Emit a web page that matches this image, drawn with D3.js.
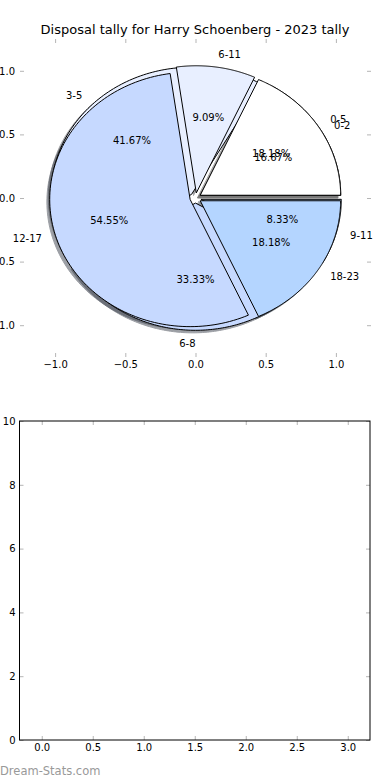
<!DOCTYPE html>
<html>
<head>
<meta charset="utf-8">
<script src="https://cdn.jsdelivr.net/npm/d3@7"></script>
<style>
  html, body { margin: 0; padding: 0; background: #fff; }
  svg { display: block; font-family: "DejaVu Sans", sans-serif; }
</style>
</head>
<body>
<div id="chart"></div>
<script>
// chart data
var titleText = "Disposal tally for Harry Schoenberg - 2023 tally";
var firstLabels = ["0-2", "3-5", "6-8", "9-11"];
var firstValues = [2, 5, 4, 1];
var secondLabels = ["0-5", "6-11", "12-17", "18-23"];
var secondValues = [2, 1, 6, 2];
var sliceColors = ["#ffffff", "#e8efff", "#c6d9ff", "#b4d5ff"];
var pieTicks = [-1, -0.5, 0, 0.5, 1];
var emptyXTicks = [0, 0.5, 1, 1.5, 2, 2.5, 3];
var emptyYTicks = [0, 2, 4, 6, 8, 10];
var watermark = "Dream-Stats.com";

var width = 390, height = 780;
var explode = 0.04, shadowOffset = -0.02;
var tickGrey = "#b5b5b5";

var svg = d3.select("#chart").append("svg")
    .attr("width", width)
    .attr("height", height);

// --- top panel: two overlaid pies ---
var xPie = d3.scaleLinear().domain([-1.25, 1.25]).range([20, 371]);
var yPie = d3.scaleLinear().domain([-1.25, 1.25]).range([357, 39]);

svg.append("text")
    .attr("x", 195)
    .attr("y", 34)
    .attr("text-anchor", "middle")
    .style("font-size", "13px")
    .text(titleText);

// matplotlib style: start at 3 o'clock, go counter-clockwise
var pieLayout = d3.pie().sort(null)
    .startAngle(Math.PI / 2)
    .endAngle(Math.PI / 2 - 2 * Math.PI);

var line = d3.line()
    .x(function(p) { return xPie(p[0]); })
    .y(function(p) { return yPie(p[1]); });

function buildWedges(labels, values) {
    var total = d3.sum(values);
    return pieLayout(values).map(function(a, i) {
        var t1 = Math.PI / 2 - a.startAngle;
        var t2 = Math.PI / 2 - a.endAngle;
        var tm = (t1 + t2) / 2;
        var cx = explode * Math.cos(tm), cy = explode * Math.sin(tm);
        var pts = [[cx, cy]];
        var n = 120;
        for (var k = 0; k <= n; k++) {
            var t = t1 + (t2 - t1) * k / n;
            pts.push([cx + Math.cos(t), cy + Math.sin(t)]);
        }
        return {
            label: labels[i],
            pct: d3.format(".2f")(values[i] / total * 100) + "%",
            color: sliceColors[i],
            tm: tm, cx: cx, cy: cy, pts: pts
        };
    });
}

var firstPie = buildWedges(firstLabels, firstValues);
var secondPie = buildWedges(secondLabels, secondValues);
var allWedges = firstPie.concat(secondPie);

function darker(c) {
    var rgb = d3.rgb(c);
    return d3.rgb(rgb.r * 0.3, rgb.g * 0.3, rgb.b * 0.3).toString();
}

// shadows sit below every wedge
svg.append("g").attr("class", "shadows")
    .selectAll("path")
    .data(allWedges)
    .enter().append("path")
    .attr("d", function(d) {
        return line(d.pts.map(function(p) { return [p[0] + shadowOffset, p[1] + shadowOffset]; })) + "Z";
    })
    .style("fill", function(d) { return darker(d.color); })
    .style("stroke", function(d) { return darker(d.color); })
    .style("stroke-width", 1)
    .style("opacity", 0.5);

svg.append("g").attr("class", "wedges")
    .selectAll("path")
    .data(allWedges)
    .enter().append("path")
    .attr("d", function(d) { return line(d.pts) + "Z"; })
    .style("fill", function(d) { return d.color; })
    .style("stroke", "#000")
    .style("stroke-width", 1)
    .style("stroke-linejoin", "miter");

var labelGroup = svg.append("g").style("font-size", "10px");
allWedges.forEach(function(d) {
    var lx = d.cx + 1.1 * Math.cos(d.tm);
    var ly = d.cy + 1.1 * Math.sin(d.tm);
    labelGroup.append("text")
        .attr("x", xPie(lx))
        .attr("y", yPie(ly))
        .attr("dy", "0.35em")
        .attr("text-anchor", lx > 0 ? "start" : "end")
        .text(d.label);
    labelGroup.append("text")
        .attr("x", xPie(d.cx + 0.6 * Math.cos(d.tm)))
        .attr("y", yPie(d.cy + 0.6 * Math.sin(d.tm)))
        .attr("dy", "0.35em")
        .attr("text-anchor", "middle")
        .text(d.pct);
});

// pie axes: no frame, grey inward ticks on all four sides
var fmt1 = d3.format(".1f");
function styleAxis(g) {
    g.select(".domain").remove();
    g.selectAll(".tick line").style("stroke", tickGrey).style("stroke-width", 1);
    g.selectAll(".tick text").style("font-size", "10px").style("font-family", "DejaVu Sans").style("fill", "#000");
}
svg.append("g").attr("transform", "translate(0,357)")
    .call(d3.axisBottom(xPie).tickValues(pieTicks).tickFormat(fmt1).tickSize(-4).tickPadding(4))
    .call(styleAxis);
svg.append("g").attr("transform", "translate(0,39)")
    .call(d3.axisTop(xPie).tickValues(pieTicks).tickFormat("").tickSize(-4))
    .call(styleAxis);
svg.append("g").attr("transform", "translate(20,0)")
    .call(d3.axisLeft(yPie).tickValues(pieTicks).tickFormat(fmt1).tickSize(-4).tickPadding(5))
    .call(styleAxis);
svg.append("g").attr("transform", "translate(371,0)")
    .call(d3.axisRight(yPie).tickValues(pieTicks).tickFormat("").tickSize(-4))
    .call(styleAxis);

// --- bottom panel: empty axes ---
var xEmpty = d3.scaleLinear().domain([-0.218, 3.218]).range([19.5, 370]);
var yEmpty = d3.scaleLinear().domain([0, 10]).range([740, 421]);

svg.append("g").attr("transform", "translate(0,740)")
    .call(d3.axisBottom(xEmpty).tickValues(emptyXTicks).tickFormat(fmt1).tickSize(-4).tickPadding(4))
    .call(styleAxis);
svg.append("g").attr("transform", "translate(0,421)")
    .call(d3.axisTop(xEmpty).tickValues(emptyXTicks).tickFormat("").tickSize(-4))
    .call(styleAxis);
svg.append("g").attr("transform", "translate(19.5,0)")
    .call(d3.axisLeft(yEmpty).tickValues(emptyYTicks).tickFormat(d3.format("d")).tickSize(-4).tickPadding(4))
    .call(styleAxis);
svg.append("g").attr("transform", "translate(370,0)")
    .call(d3.axisRight(yEmpty).tickValues(emptyYTicks).tickFormat("").tickSize(-4))
    .call(styleAxis);

svg.append("rect")
    .attr("x", xEmpty.range()[0])
    .attr("y", yEmpty.range()[1])
    .attr("width", xEmpty.range()[1] - xEmpty.range()[0])
    .attr("height", yEmpty.range()[0] - yEmpty.range()[1])
    .style("fill", "none")
    .style("stroke", "#000")
    .style("stroke-width", 1);

svg.append("text")
    .attr("x", 0)
    .attr("y", 775)
    .style("font-size", "11.5px")
    .style("fill", "#999")
    .text(watermark);
</script>
</body>
</html>
